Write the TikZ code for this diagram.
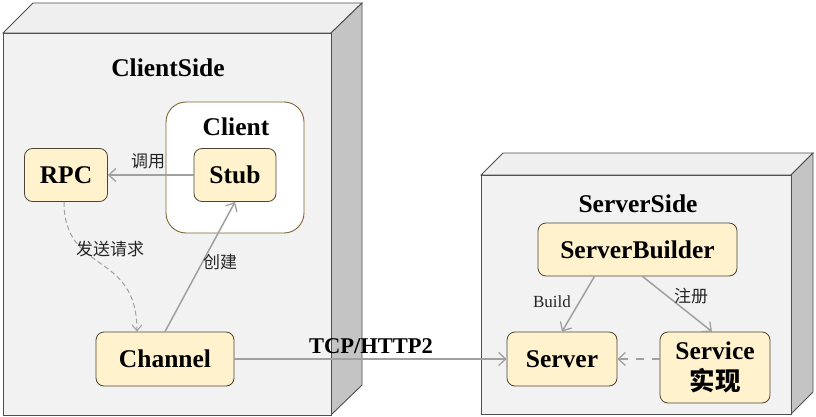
\documentclass[tikz,border=0pt]{standalone}
\usepackage{fontspec}
\setmainfont{Liberation Serif}
\newfontfamily\cjk{Noto Sans CJK SC}
\usetikzlibrary{arrows.meta,calc}
\definecolor{nodefill}{HTML}{FFF2CC}
\definecolor{nodeline}{HTML}{4A4538}
\definecolor{boxline}{HTML}{7F6430}
\definecolor{frontc}{HTML}{F2F2F2}
\definecolor{topc}{HTML}{EFEFEF}
\definecolor{sidec}{HTML}{C4C4C4}
\definecolor{cubeline}{HTML}{4F4F4F}
\definecolor{edgec}{HTML}{A0A0A0}
\begin{document}
\begin{tikzpicture}[x=1pt,y=-1pt,
  comp/.style={draw=nodeline,fill=nodefill,rounded corners=8pt,line width=0.8pt,
    font=\fontsize{25.5}{27}\selectfont\bfseries,inner sep=0pt,align=center},
  cubeface/.style={draw=cubeline,line width=0.9pt,line join=miter},
  conn/.style={draw=edgec,line width=1.5pt,-{Straight Barb[length=7pt,width=13pt,line width=1.3pt]}},
  lbl/.style={font=\fontsize{17}{19}\selectfont,text=black!85,inner sep=1pt},
  title/.style={font=\fontsize{25.5}{27}\selectfont\bfseries,inner sep=0pt}]
\useasboundingbox (0,0) rectangle (816,417);
% ClientSide cube
\path[cubeface,fill=topc] (3,33) -- (33,3) -- (362,3) -- (331,33) -- cycle;
\path[cubeface,fill=sidec] (331,33) -- (362,3) -- (362,385) -- (331,415) -- cycle;
\path[cubeface,fill=frontc] (3,33) rectangle (331,415);
\node[title] (cs) at (168,68) {ClientSide};
% ServerSide cube
\path[cubeface,fill=topc] (481,175) -- (503,153) -- (813,153) -- (791,175) -- cycle;
\path[cubeface,fill=sidec] (791,175) -- (813,153) -- (813,392) -- (791,414) -- cycle;
\path[cubeface,fill=frontc] (481,175) rectangle (791,414);
\node[title] (ss) at (638,204) {ServerSide};
% Client container
\node[draw=boxline,fill=white,rounded corners=20pt,line width=0.9pt,minimum width=138pt,minimum height=131pt,inner sep=0pt] (clientbox) at (235,167.5) {};
\node[title] (clientlbl) at (236,127) {Client};
% nodes
\node[comp,minimum width=83pt,minimum height=53pt] (rpc) at (66,175) {RPC};
\node[comp,minimum width=82pt,minimum height=53pt] (stub) at (235,175) {Stub};
\node[comp,minimum width=138pt,minimum height=54pt] (channel) at (165,359) {Channel};
\node[comp,minimum width=199pt,minimum height=53pt] (sb) at (637.5,249.5) {ServerBuilder};
\node[comp,minimum width=110pt,minimum height=54pt] (server) at (562,359) {Server};
\node[comp,minimum width=110pt,minimum height=71pt,font=\fontsize{25.5}{31}\selectfont\bfseries] (service) at (715,367.5) {Service\\{\cjk\bfseries 实现}};
% edges
\draw[conn] (stub.west) -- (rpc.east);
\node[lbl] (l1) at (148,161) {\cjk 调用};
\draw[conn,line width=1pt,dash pattern=on 5pt off 3pt,-{Straight Barb[length=6pt,width=10pt,line width=1pt]}]
  ([xshift=-2pt]rpc.south) .. controls (64,275) and (137,250) .. ([xshift=-28pt]channel.north);
\node[lbl] (l2) at (110,249) {\cjk 发送请求};
\draw[conn] (channel.north) -- (stub.south);
\node[lbl] (l3) at (220,262) {\cjk 创建};
\draw[conn] (channel.east) -- (server.west);
\node[title,font=\fontsize{22.5}{24}\selectfont\bfseries] (tcp) at (371,346) {TCP/HTTP2};
\draw[conn] ([xshift=-43pt]sb.south) -- (server.north);
\node[lbl] (l4) at (552,302) {Build};
\draw[conn] ([xshift=5pt]sb.south) -- ([xshift=-3pt]service.north);
\node[lbl] (l5) at (691,296) {\cjk 注册};
\draw[conn,dash pattern=on 8pt off 8pt] (service.west |- server.east) -- (server.east);
\end{tikzpicture}
\end{document}
